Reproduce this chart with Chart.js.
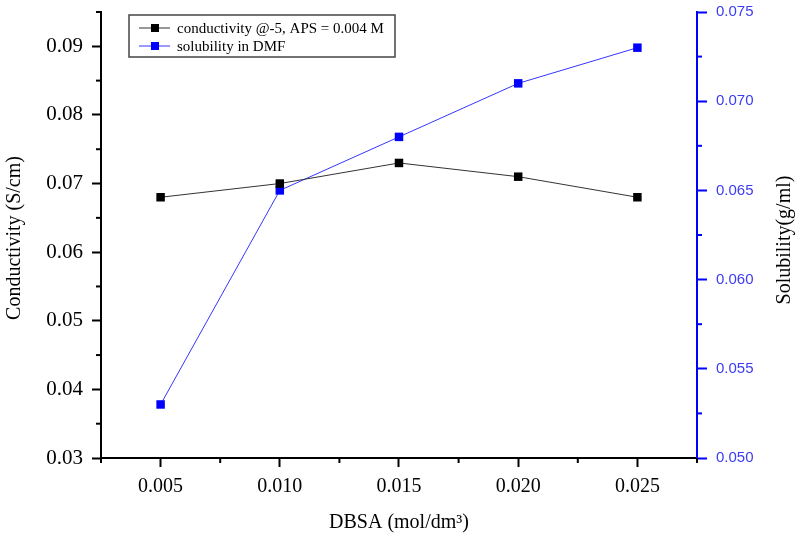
<!DOCTYPE html>
<html>
<head>
<meta charset="utf-8">
<script src="https://cdn.jsdelivr.net/npm/chart.js@4.4.1/dist/chart.umd.min.js"></script>
<style>
  html, body { margin: 0; padding: 0; background: #fff; }
  #wrap { width: 797px; height: 538px; position: relative; }
</style>
</head>
<body>
<div id="wrap"><canvas id="grafico"></canvas></div>
<script>
// dados
var dbsa = [0.005, 0.010, 0.015, 0.020, 0.025]
var condutividade = [0.068, 0.070, 0.073, 0.071, 0.068]
var solubilidade = [0.053, 0.065, 0.068, 0.071, 0.073]

var rotuloCond = "conductivity @-5, APS = 0.004 M"
var rotuloSol = "solubility in DMF"
var tituloX = "DBSA (mol/dm\u00B3)"
var tituloY1 = "Conductivity (S/cm)"
var tituloY2 = "Solubility(g/ml)"

var serif = "'Liberation Serif', 'Times New Roman', serif"
var sans = "'Liberation Sans', Arial, sans-serif"
var azul = '#0000ff'

function ehMultiplo(v, passo) {
    var q = v / passo
    return Math.abs(q - Math.round(q)) < 1e-6
}

// ticks menores + titulos + legenda
var extras = {
    id: 'extras',
    afterDraw(chart) {
        var ctx = chart.ctx
        var sx = chart.scales.x, sy = chart.scales.y, sy2 = chart.scales.y2
        ctx.save()

        // ticks menores
        ctx.lineWidth = 2
        ctx.strokeStyle = '#000'
        sx.ticks.forEach(function (t) {
            if (ehMultiplo(t.value, 0.005)) return
            var px = sx.getPixelForValue(t.value)
            ctx.beginPath(); ctx.moveTo(px, sx.top); ctx.lineTo(px, sx.top + 5); ctx.stroke()
        })
        sy.ticks.forEach(function (t) {
            if (ehMultiplo(t.value, 0.01)) return
            var py = sy.getPixelForValue(t.value)
            ctx.beginPath(); ctx.moveTo(sy.right, py); ctx.lineTo(sy.right - 5, py); ctx.stroke()
        })
        ctx.strokeStyle = azul
        sy2.ticks.forEach(function (t) {
            if (ehMultiplo(t.value, 0.005)) return
            var py = sy2.getPixelForValue(t.value)
            ctx.beginPath(); ctx.moveTo(sy2.left, py); ctx.lineTo(sy2.left + 5, py); ctx.stroke()
        })

        // titulos dos eixos
        ctx.fillStyle = '#000'
        ctx.font = '20px ' + serif
        ctx.textAlign = 'center'
        ctx.textBaseline = 'middle'
        ctx.fillText(tituloX, (chart.chartArea.left + chart.chartArea.right) / 2, 523)

        var meioY = (chart.chartArea.top + chart.chartArea.bottom) / 2
        ctx.save()
        ctx.translate(15, meioY + 3)
        ctx.rotate(-Math.PI / 2)
        ctx.fillText(tituloY1, 0, 0)
        ctx.restore()

        ctx.save()
        ctx.translate(785, meioY + 5)
        ctx.rotate(-Math.PI / 2)
        ctx.fillText(tituloY2, 0, 0)
        ctx.restore()

        // legenda
        var caixaX = 129, caixaY = 15, caixaW = 266, caixaH = 42
        ctx.lineWidth = 1.5
        ctx.strokeStyle = '#444'
        ctx.strokeRect(caixaX, caixaY, caixaW, caixaH)
        ctx.font = '15px ' + serif
        ctx.textAlign = 'left'
        chart.data.datasets.forEach(function (ds, i) {
            var ly = 28 + i * 18
            ctx.strokeStyle = ds.borderColor
            ctx.lineWidth = 1
            ctx.beginPath(); ctx.moveTo(139, ly); ctx.lineTo(170, ly); ctx.stroke()
            ctx.fillStyle = ds.pointBackgroundColor
            ctx.fillRect(151, ly - 4, 8, 8)
            ctx.fillStyle = '#000'
            ctx.fillText(ds.label, 177, ly + 1)
        })
        ctx.restore()
    }
}

function semPadding(s) {
    s.paddingTop = 0
    s.paddingBottom = 0
    s.paddingLeft = 0
    s.paddingRight = 0
}

const dadosGrafico = {
    datasets: [{
        label: rotuloCond,
        data: dbsa.map((x, i) => ({ x: x, y: condutividade[i] })),
        yAxisID: 'y',
        showLine: true,
        borderColor: '#333333',
        borderWidth: 1,
        pointStyle: 'rect',
        pointRadius: 6,
        pointBackgroundColor: '#000000',
        pointBorderColor: '#000000',
        pointBorderWidth: 0,
    }, {
        label: rotuloSol,
        data: dbsa.map((x, i) => ({ x: x, y: solubilidade[i] })),
        yAxisID: 'y2',
        showLine: true,
        borderColor: '#3535ff',
        borderWidth: 1,
        pointStyle: 'rect',
        pointRadius: 6,
        pointBackgroundColor: azul,
        pointBorderColor: azul,
        pointBorderWidth: 0,
    }]
}

const config = {
    type: 'scatter',
    data: dadosGrafico,
    plugins: [extras],
    options: {
        responsive: true,
        maintainAspectRatio: false,
        animation: { duration: 0 },
        layout: { padding: { top: 12, left: 0, right: 0, bottom: 0 } },
        plugins: {
            legend: { display: false },
            tooltip: { enabled: false }
        },
        scales: {
            x: {
                type: 'linear',
                min: 0.0025,
                max: 0.0275,
                afterFit(s) { s.height = 80; semPadding(s) },
                ticks: {
                    stepSize: 0.0025,
                    autoSkip: false,
                    maxRotation: 0,
                    padding: 8,
                    color: '#000',
                    font: { family: serif, size: 20 },
                    callback: (v) => ehMultiplo(v, 0.005) ? v.toFixed(3) : ''
                },
                grid: {
                    drawOnChartArea: false,
                    tickLength: 9,
                    tickWidth: 2,
                    tickColor: (c) => (c.tick && ehMultiplo(c.tick.value, 0.005)) ? '#000' : 'rgba(0,0,0,0)'
                },
                border: { color: '#000', width: 2 }
            },
            y: {
                position: 'left',
                min: 0.03,
                max: 0.095,
                afterFit(s) { s.width = 101; semPadding(s) },
                ticks: {
                    stepSize: 0.005,
                    autoSkip: false,
                    padding: 9,
                    color: '#000',
                    font: { family: serif, size: 21 },
                    callback: (v) => ehMultiplo(v, 0.01) ? v.toFixed(2) : ''
                },
                grid: {
                    drawOnChartArea: false,
                    tickLength: 9,
                    tickWidth: 2,
                    tickColor: (c) => (c.tick && ehMultiplo(c.tick.value, 0.01)) ? '#000' : 'rgba(0,0,0,0)'
                },
                border: { color: '#000', width: 2 }
            },
            y2: {
                position: 'right',
                min: 0.05,
                max: 0.075,
                afterFit(s) { s.width = 100; semPadding(s) },
                ticks: {
                    stepSize: 0.0025,
                    autoSkip: false,
                    padding: 9,
                    color: '#3c3cf0',
                    font: { family: sans, size: 15 },
                    callback: (v) => ehMultiplo(v, 0.005) ? v.toFixed(3) : ''
                },
                grid: {
                    drawOnChartArea: false,
                    tickLength: 10,
                    tickWidth: 2,
                    tickColor: (c) => (c.tick && ehMultiplo(c.tick.value, 0.005)) ? azul : 'rgba(0,0,255,0)'
                },
                border: { color: azul, width: 2 }
            }
        }
    }
}

new Chart(document.getElementById('grafico'), config)
</script>
</body>
</html>
